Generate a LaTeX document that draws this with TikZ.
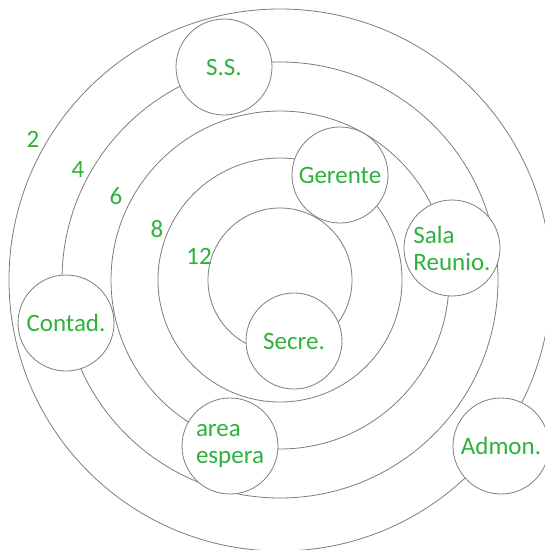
\documentclass[tikz,border=0pt]{standalone}
\usepackage{fontspec}
\setmainfont{Carlito}
\usepackage{tikz}
\usetikzlibrary{positioning}
\definecolor{lblgreen}{RGB}{45,178,60}
\definecolor{linegray}{RGB}{125,125,125}
\tikzset{
  ring/.style={circle, draw=linegray, line width=0.8pt, inner sep=0pt},
  room/.style={circle, draw=linegray, line width=0.8pt, fill=white, minimum size=96pt, inner sep=0pt,
    text=lblgreen, font=\fontsize{25}{27}\selectfont, align=left},
  lvl/.style={text=lblgreen, font=\fontsize{25}{27}\selectfont, inner sep=0pt}
}
\begin{document}
\begin{tikzpicture}[x=1pt,y=-1pt]
  \useasboundingbox (0,0) rectangle (545,550);
  \clip (0,0) rectangle (545,550);
  \fill[white] (0,0) rectangle (545,550);
  % rings
  \coordinate (ctr) at (280,280);
  \node[ring, minimum size=542pt] (r2) at (ctr) {};
  \node[ring, minimum size=436pt] (r4) at (ctr) {};
  \node[ring, minimum size=338pt] (r6) at (ctr) {};
  \node[ring, minimum size=244pt] (r8) at (ctr) {};
  \node[ring, minimum size=144pt] (r12) at (ctr) {};
  % ring numbers
  \node[lvl] (n2) at (33,139) {2};
  \node[lvl] (n4) at (78,169) {4};
  \node[lvl] (n6) at (116,196) {6};
  \node[lvl] (n8) at (157,229) {8};
  \node[lvl] (n12) at (199,256) {12};
  % rooms
  \node[room] (ss) at (224,67) {S.S.};
  \node[room] (gerente) at (340,175) {Gerente};
  \node[room] (sala) at (452,248) {Sala\\Reunio.};
  \node[room] (contad) at (66,323) {Contad.};
  \node[room] (secre) at (294,341) {Secre.};
  \node[room] (espera) at (230,446) {area\\espera};
  \node[room] (admon) at (501,446) {Admon.};
\end{tikzpicture}
\end{document}
